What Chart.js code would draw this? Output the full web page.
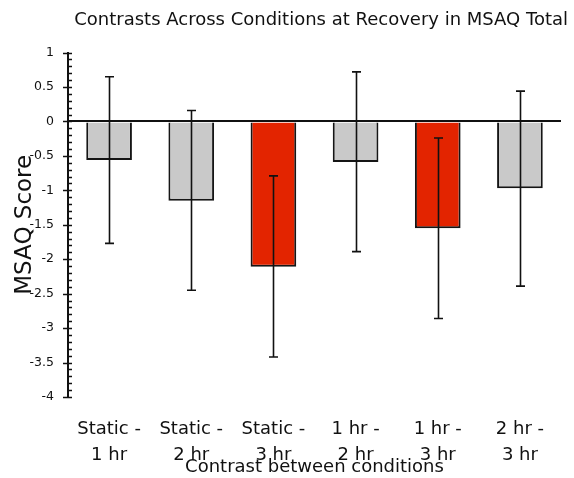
<!DOCTYPE html>
<html>
<head>
<meta charset="utf-8">
<script src="https://cdn.jsdelivr.net/npm/chart.js@4/dist/chart.umd.min.js"></script>
<style>
  html, body { margin: 0; padding: 0; background: #fff; }
  #wrap { width: 574px; height: 478px; position: relative; }
</style>
</head>
<body>
<div id="wrap"><canvas id="contrastChart"></canvas></div>
<script>
// contrasts between conditions (x categories, two-line labels)
const categories = [
    ['Static -', '1 hr'],
    ['Static -', '2 hr'],
    ['Static -', '3 hr'],
    ['1 hr -', '2 hr'],
    ['1 hr -', '3 hr'],
    ['2 hr -', '3 hr']
];

// mean difference in MSAQ score
const meanDiff = [-0.56, -1.15, -2.11, -0.59, -1.55, -0.97];

// error bar ends
const errUpper = [0.65, 0.16, -0.79, 0.72, -0.24, 0.44];
const errLower = [-1.77, -2.45, -3.42, -1.89, -2.86, -2.39];

// contrasts highlighted in red
const significant = [false, false, true, false, true, false];

const yMin = -4;
const yMax = 1;

const FONT = "'DejaVu Sans', Verdana, sans-serif";

// error bars drawn from the y scale
const errorBars = {
    id: 'errorBars',
    afterDatasetsDraw(chart) {
        const ctx = chart.ctx;
        const y = chart.scales.y;
        const meta = chart.getDatasetMeta(0);
        ctx.save();
        ctx.strokeStyle = '#111';
        ctx.lineWidth = 1.6;
        meta.data.forEach((bar, i) => {
            const x = Math.round(bar.x) + 0.5;
            const top = y.getPixelForValue(errUpper[i]);
            const bot = y.getPixelForValue(errLower[i]);
            ctx.beginPath();
            ctx.moveTo(x, top);
            ctx.lineTo(x, bot);
            ctx.moveTo(x - 4.5, top);
            ctx.lineTo(x + 4.5, top);
            ctx.moveTo(x - 4.5, bot);
            ctx.lineTo(x + 4.5, bot);
            ctx.stroke();
        });
        ctx.restore();
    }
};

// major ticks cross the axis, minor ticks (0.1) sit inside
const axisTicks = {
    id: 'axisTicks',
    afterDraw(chart) {
        const ctx = chart.ctx;
        const y = chart.scales.y;
        const x0 = chart.chartArea.left;
        ctx.save();
        ctx.strokeStyle = '#111';
        ctx.lineWidth = 1.5;
        const steps = Math.round((yMax - yMin) * 10);
        for (let k = 0; k <= steps; k++) {
            const py = Math.round(y.getPixelForValue(yMin + k / 10)) + 0.5;
            const major = k % 5 === 0;
            ctx.beginPath();
            ctx.moveTo(major ? x0 - 5 : x0, py);
            ctx.lineTo(x0 + 4, py);
            ctx.stroke();
        }
        ctx.restore();
    }
};

const ctx = document.getElementById('contrastChart').getContext('2d');

new Chart(ctx, {
    type: 'bar',
    data: {
        labels: categories,
        datasets: [{
            data: meanDiff,
            backgroundColor: significant.map(s => s ? '#e32400' : '#c9c9c9'),
            borderColor: '#151515',
            borderWidth: 2,
            barPercentage: 0.556,
            categoryPercentage: 1
        }]
    },
    options: {
        responsive: true,
        maintainAspectRatio: false,
        animation: false,
        layout: {
            padding: { left: 4, right: 6, top: 0, bottom: 0 }
        },
        plugins: {
            legend: { display: false },
            tooltip: { enabled: false },
            title: {
                display: true,
                text: 'Contrasts Across Conditions at Recovery in MSAQ Total',
                align: 'end',
                color: '#111',
                font: { family: FONT, size: 18, weight: 'normal' },
                padding: { top: 10, bottom: 21 }
            }
        },
        scales: {
            x: {
                grid: { display: false, drawTicks: false },
                border: { display: false },
                ticks: {
                    color: '#111',
                    padding: 20,
                    maxRotation: 0,
                    autoSkip: false,
                    font: { family: FONT, size: 18, lineHeight: 1.42 }
                },
                title: {
                    display: true,
                    text: 'Contrast between conditions',
                    color: '#111',
                    font: { family: FONT, size: 18 },
                    padding: { top: 0, bottom: 0 }
                },
                afterFit(scale) { scale.height = 81; }
            },
            y: {
                min: yMin,
                max: yMax,
                ticks: {
                    stepSize: 0.5,
                    color: '#111',
                    padding: 14,
                    font: { family: FONT, size: 12.5 },
                    callback: v => String(v)
                },
                grid: {
                    drawTicks: false,
                    color: c => (c.tick && c.tick.value === 0) ? '#111' : 'rgba(0,0,0,0)',
                    lineWidth: c => (c.tick && c.tick.value === 0) ? 2 : 0
                },
                border: { display: true, color: '#111', width: 2 },
                title: {
                    display: true,
                    text: 'MSAQ Score',
                    color: '#111',
                    font: { family: FONT, size: 23 },
                    padding: { top: 7, bottom: 0 }
                },
                afterFit(scale) { scale.width = 64; }
            },
            // empty strip on the right so the plot ends before the title does
            yRight: {
                position: 'right',
                min: yMin,
                max: yMax,
                ticks: { display: false },
                grid: { display: false, drawTicks: false },
                border: { display: false },
                afterFit(scale) { scale.width = 7; }
            }
        }
    },
    plugins: [errorBars, axisTicks]
});
</script>
</body>
</html>
